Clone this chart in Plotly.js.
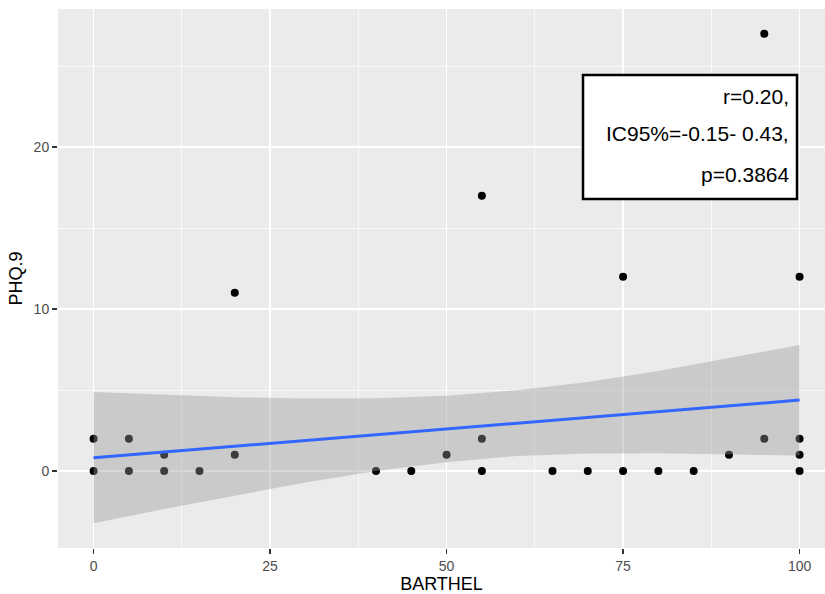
<!DOCTYPE html>
<html>
<head>
<meta charset="utf-8">
<script src="https://cdn.plot.ly/plotly-3.0.1.min.js"></script>
<style>
html,body{margin:0;padding:0;background:#fff;overflow:hidden;}
#chart{width:825px;height:594px;}
</style>
</head>
<body>
<div id="chart"></div>
<script>
// Data points (BARTHEL vs PHQ.9)
const barthel = [0,0,5,5,10,10,15,20,20,40,45,50,55,55,55,65,70,75,75,80,85,90,95,95,100,100,100,100];
const phq9    = [2,0,2,0,1,0,0,11,1,0,0,1,17,2,0,0,0,12,0,0,0,1,27,2,12,2,1,0];

// Linear fit
const fitX = [0, 100];
const fitY = [0.82, 4.38];

// 95% confidence band
const bandX     = [0, 10, 20, 30, 40, 50, 60, 70, 80, 90, 100];
const bandUpper = [4.88, 4.70, 4.56, 4.48, 4.49, 4.65, 4.99, 5.50, 6.17, 6.98, 7.78];
const bandLower = [-3.23, -2.34, -1.50, -0.70, 0.00, 0.55, 0.93, 1.08, 1.10, 1.04, 0.96];

// Axis ticks
const xTickVals = [0, 25, 50, 75, 100];
const yTickVals = [0, 10, 20];

// Annotation text
const statLines = ["r=0.20,", "IC95%=-0.15- 0.43,", "p=0.3864"];

const polyX = bandX.concat(bandX.slice().reverse());
const polyY = bandUpper.concat(bandLower.slice().reverse());

const traces = [
  {
    x: barthel, y: phq9, type: 'scatter', mode: 'markers',
    marker: {color: '#000000', size: 8, line: {width: 0}},
    hoverinfo: 'skip', showlegend: false
  },
  {
    x: polyX, y: polyY, type: 'scatter', mode: 'lines',
    fill: 'toself', fillcolor: 'rgba(153,153,153,0.4)',
    line: {width: 0, color: 'rgba(0,0,0,0)'},
    hoverinfo: 'skip', showlegend: false
  },
  {
    x: fitX, y: fitY, type: 'scatter', mode: 'lines',
    line: {color: '#3366FF', width: 3},
    hoverinfo: 'skip', showlegend: false
  }
];

const font = 'Liberation Sans, Arial, Helvetica, sans-serif';

const annY = [0.838, 0.7685, 0.6925];
const annotations = statLines.map((t, i) => ({
  text: t, xref: 'paper', yref: 'paper', x: 0.9557, y: annY[i],
  xanchor: 'right', yanchor: 'middle', showarrow: false,
  font: {family: font, size: 21, color: '#000000'}
}));

const layout = {
  width: 825, height: 594,
  margin: {l: 58, r: 0, t: 9, b: 46, pad: 0},
  paper_bgcolor: '#FFFFFF',
  plot_bgcolor: '#EBEBEB',
  font: {family: font},
  showlegend: false,
  xaxis: {
    range: [-5.04, 103.6], tickvals: xTickVals, ticktext: xTickVals.map(String),
    ticks: 'outside', ticklen: 5, tickwidth: 1.4, tickcolor: '#333333',
    tickfont: {family: font, size: 14, color: '#4D4D4D'},
    showgrid: true, gridcolor: '#FFFFFF', gridwidth: 1.4,
    minor: {dtick: 12.5, tick0: 0, showgrid: true, gridcolor: '#FFFFFF', gridwidth: 0.7},
    zeroline: false, showline: false, automargin: false,
    title: {text: 'BARTHEL', font: {family: font, size: 18, color: '#000000'}, standoff: 2}
  },
  yaxis: {
    range: [-4.75, 28.52], tickvals: yTickVals, ticktext: yTickVals.map(String),
    ticks: 'outside', ticklen: 5, tickwidth: 1.4, tickcolor: '#333333',
    tickfont: {family: font, size: 14, color: '#4D4D4D'},
    showgrid: true, gridcolor: '#FFFFFF', gridwidth: 1.4,
    minor: {dtick: 5, tick0: 0, showgrid: true, gridcolor: '#FFFFFF', gridwidth: 0.7},
    zeroline: false, showline: false, automargin: false,
    title: {text: 'PHQ.9', font: {family: font, size: 18, color: '#000000'}, standoff: 6}
  },
  shapes: [{
    type: 'rect', xref: 'paper', yref: 'paper',
    x0: 0.6845, x1: 0.9635, y0: 0.6475, y1: 0.8776,
    line: {color: '#000000', width: 2.5}, fillcolor: '#FFFFFF', layer: 'above'
  }],
  annotations: annotations
};

Plotly.newPlot('chart', traces, layout, {staticPlot: true, displayModeBar: false});
</script>
</body>
</html>
